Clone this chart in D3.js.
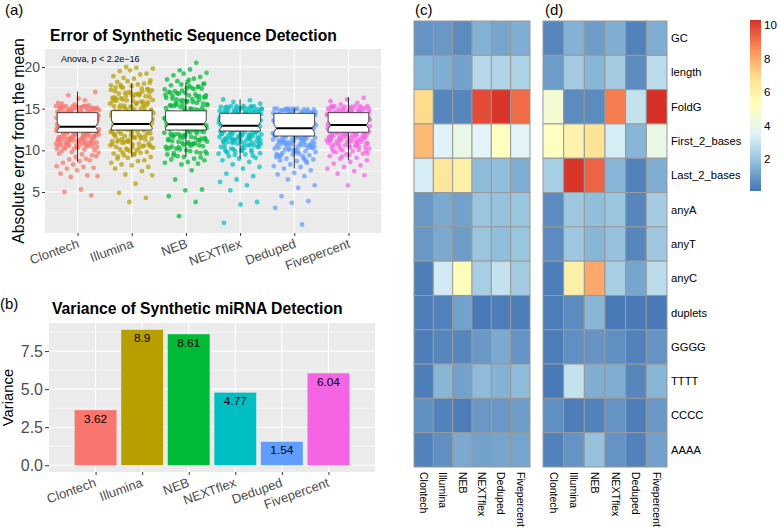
<!DOCTYPE html>
<html>
<head>
<meta charset="utf-8">
<script src="https://cdn.jsdelivr.net/npm/d3@7"></script>
<style>
  body { margin: 0; background: #fff; }
  svg { font-family: "Liberation Sans", Arial, sans-serif; display: block; }
</style>
</head>
<body>
<svg id="fig" width="778" height="531"></svg>
<script>
// ---- data ----
const categories = ["Clontech", "Illumina", "NEB", "NEXTflex", "Deduped", "Fivepercent"];
const hueColors = ["#F8766D", "#B79F00", "#00BA38", "#00BFC4", "#619CFF", "#F564E3"];

// (a) box statistics
const boxLow = [8.64, 9.16, 9.2, 9.04, 7.84, 8.84];
const boxQ1 = [12.17, 12.44, 12.44, 12.32, 11.72, 12.17];
const boxMedian = [12.84, 13.16, 13.14, 12.96, 12.64, 13.04];
const boxQ3 = [14.52, 14.76, 14.74, 14.44, 14.44, 14.52];
const boxHigh = [17.04, 18.1, 18.1, 16.12, 15.04, 16.36];
const notchHalf = [0.45, 0.45, 0.45, 0.45, 0.5, 0.45];
const errorTicks = [5, 10, 15, 20];
const errorMinor = [2.5, 7.5, 12.5, 17.5];

// (a) jittered points, absolute error per sequence (estimated)
const clontechErr = [15.3,15.2,15.3,15.1,15.2,15.0,15.3,14.9,15.1,14.8,15.2,14.7,15.0,14.6,15.3,14.5,14.9,14.4,15.1,14.3,
  14.8,14.2,14.6,14.1,15.0,14.0,14.4,13.9,14.7,13.8,14.2,13.7,14.5,13.6,13.9,13.5,14.3,13.4,13.8,13.3,
  14.1,13.2,13.6,13.1,14.0,13.0,13.4,12.9,13.7,12.8,13.2,12.7,13.5,12.6,12.9,12.5,13.3,12.4,12.7,12.3,
  13.0,12.2,12.5,12.1,12.8,12.0,12.3,11.9,12.6,11.8,12.1,11.7,12.4,11.6,11.9,11.5,12.2,11.4,11.7,11.3,
  12.0,11.2,11.5,11.1,11.8,11.0,11.3,10.9,11.6,10.8,11.1,10.7,11.4,10.6,10.9,10.5,11.2,10.4,10.7,10.3,
  10.9,10.2,10.5,10.1,10.8,10.0,10.3,9.9,10.6,9.8,9.7,9.5,10.2,9.4,9.2,9.6,9.0,8.9,9.3,8.7,
  8.5,8.8,8.3,8.1,8.0,7.8,7.9,7.6,7.2,7.0,6.8,6.9,5.3,5.0,4.6,
  15.5,15.7,16.0,16.6,17.0,16.2,15.6,15.4];
const clontechCore = [15.25,14.85,14.35,13.95,13.45,12.95,12.45,11.95,11.45,10.95,15.15,14.65,14.15,13.65,13.15,12.65,12.15,11.65,11.15,10.65,
  15.05,14.55,14.05,13.55,13.05,12.55,12.05,11.55,11.05,10.55,14.95,14.45,13.85,13.35,12.85,12.35,11.85,11.35,10.85,10.35,
  15.28,14.75,14.25,13.75,13.25,12.75,12.25,11.75,11.25,10.75,14.88,14.38,13.88,13.38,12.88,12.38,11.88,11.38,10.88,10.45,
  15.18,14.68,14.18,13.68,13.18,12.68,12.18,11.68,11.18,10.15];
const illuminaErr = [20.0,19.8,19.9,19.5,19.2,19.6,18.9,19.1,18.7,18.4,18.6,18.2,18.0,18.3,17.8,17.9,17.6,17.3,17.7,17.1,
  17.4,16.9,17.2,16.7,16.8,16.5,17.0,16.3,16.6,16.1,16.4,15.9,16.2,15.8,16.0,15.6,15.7,15.4,15.5,15.2,
  15.3,15.0,15.1,14.8,14.9,14.6,14.7,14.4,14.5,14.2,14.3,14.0,14.1,13.8,13.9,13.6,13.7,13.4,13.5,13.2,
  13.3,13.0,13.1,12.8,12.9,12.6,12.7,12.4,12.5,12.2,12.3,12.0,12.1,11.8,11.9,11.6,11.7,11.4,11.5,11.2,
  11.3,11.0,11.1,10.8,10.9,10.6,10.7,10.4,10.5,10.2,10.3,10.0,10.1,9.8,9.9,9.6,9.7,9.4,9.2,9.5,
  9.0,8.8,9.1,8.5,8.7,8.3,8.0,8.2,7.8,7.5,7.1,7.0,6.0,4.9,4.3,3.8,
  15.9,16.8,17.5,18.1,14.7,13.3,12.6,11.1,10.6,14.2];
const illuminaCore = [17.85,17.35,16.85,16.35,15.85,15.35,14.85,14.35,13.85,13.35,12.85,12.35,11.85,11.35,10.85,10.35,
  17.55,17.05,16.55,16.05,15.55,15.05,14.55,14.05,13.55,13.05,12.55,12.05,11.55,11.05,10.55,10.05,
  17.25,16.75,16.25,15.75,15.25,14.75,14.25,13.75,13.25,12.75,12.25,11.75,11.25,10.75,10.25,9.75,
  16.95,16.45,15.95,15.45,14.95,14.45,13.95,13.45,12.95,12.45,11.95,11.45,10.95,10.45,9.55,9.25,
  15.15,14.65,14.15,13.65,13.15,12.65,12.15,11.65];
const nebErr = [20.5,19.6,19.3,19.7,19.0,18.8,19.2,18.5,18.6,18.3,18.0,18.2,17.8,17.6,17.9,17.3,17.5,17.1,17.4,16.9,
  17.0,16.7,16.8,16.4,16.6,16.2,16.5,16.0,16.3,15.8,16.1,15.6,15.9,15.4,15.7,15.2,15.5,15.0,15.3,14.8,
  15.1,14.6,14.9,14.4,14.7,14.2,14.5,14.0,14.3,13.8,14.1,13.6,13.9,13.4,13.7,13.2,13.5,13.0,13.3,12.8,
  13.1,12.6,12.9,12.4,12.7,12.2,12.5,12.0,12.3,11.8,12.1,11.6,11.9,11.4,11.7,11.2,11.5,11.0,11.3,10.8,
  11.1,10.6,10.9,10.4,10.7,10.2,10.5,10.0,10.3,9.8,10.1,9.6,9.9,9.4,9.7,9.2,9.5,9.0,9.3,8.8,
  8.6,8.9,8.4,8.3,8.5,7.6,6.5,5.3,5.2,4.5,3.8,2.1,
  16.6,17.7,14.4,12.9,11.5,13.4,10.8,15.5];
const nebCore = [17.95,17.45,16.95,16.45,15.95,15.45,14.95,14.45,13.95,13.45,12.95,12.45,11.95,11.45,10.95,10.45,
  17.65,17.15,16.65,16.15,15.65,15.15,14.65,14.15,13.65,13.15,12.65,12.15,11.65,11.15,10.65,10.15,
  17.35,16.85,16.35,15.85,15.35,14.85,14.35,13.85,13.35,12.85,12.35,11.85,11.35,10.85,10.35,9.85,
  18.45,16.55,16.05,15.55,15.05,14.55,14.05,13.55,13.05,12.55,12.05,11.55,11.05,10.55,9.65,9.15,
  14.75,14.25,13.75,13.25,12.75,12.25,11.75,11.25];
const nextflexErr = [16.1,16.0,15.8,15.6,15.3,15.2,15.3,15.1,15.2,15.0,15.3,14.9,15.1,14.8,15.2,14.7,15.0,14.6,14.9,14.5,
  14.8,14.4,14.7,14.3,14.6,14.2,14.5,14.1,14.4,14.0,14.3,13.9,14.2,13.8,14.1,13.7,14.0,13.6,13.9,13.5,
  13.8,13.4,13.7,13.3,13.6,13.2,13.5,13.1,13.4,13.0,13.3,12.9,13.2,12.8,13.1,12.7,13.0,12.6,12.9,12.5,
  12.8,12.4,12.7,12.3,12.6,12.2,12.5,12.1,12.4,12.0,12.3,11.9,12.2,11.8,12.1,11.7,12.0,11.6,11.9,11.5,
  11.8,11.4,11.7,11.3,11.6,11.2,11.5,11.1,11.4,11.0,11.3,10.9,11.2,10.8,11.0,10.6,10.8,10.4,10.6,10.2,
  10.4,10.0,10.1,9.8,9.9,9.6,9.5,9.3,9.1,9.0,8.8,8.6,8.3,8.0,7.8,7.2,6.9,6.5,6.2,5.8,5.2,3.8,3.5,1.3];
const nextflexCore = [15.25,14.85,14.35,13.95,13.45,12.95,12.45,11.95,11.45,10.95,10.45,9.95,
  15.15,14.65,14.15,13.65,13.15,12.65,12.15,11.65,11.15,10.65,10.15,9.65,
  15.05,14.55,14.05,13.55,13.05,12.55,12.05,11.55,11.05,10.55,10.05,9.45,
  14.95,14.45,13.85,13.35,12.85,12.35,11.85,11.35,10.85,10.35,9.85,9.35,
  15.28,14.75,14.25,13.75,13.25,12.75,12.25,11.75,11.25,10.75,10.25,9.75,
  14.88,14.38,13.88,13.38,12.88,12.38,11.88,11.38,10.88];
const dedupedErr = [15.0,15.0,14.9,15.0,14.9,15.0,14.8,14.9,14.7,15.0,14.6,14.8,14.5,14.9,14.4,14.7,14.3,14.6,14.2,14.8,
  14.1,14.5,14.0,14.4,13.9,14.3,13.8,14.2,13.7,14.1,13.6,14.0,13.5,13.9,13.4,13.8,13.3,13.7,13.2,13.6,
  13.1,13.5,13.0,13.4,12.9,13.3,12.8,13.2,12.7,13.1,12.6,13.0,12.5,12.9,12.4,12.8,12.3,12.7,12.2,12.6,
  12.1,12.5,12.0,12.4,11.9,12.3,11.8,12.2,11.7,12.1,11.6,12.0,11.5,11.9,11.4,11.8,11.3,11.7,11.2,11.6,
  11.1,11.5,11.0,11.4,10.9,11.3,10.8,11.2,10.7,11.1,10.6,11.0,10.5,10.9,10.4,10.8,10.3,10.7,10.2,10.6,
  10.1,10.5,10.0,10.3,9.9,10.1,9.8,9.6,9.7,9.4,9.5,9.2,9.3,9.0,8.9,8.7,8.8,8.5,8.3,8.1,8.0,7.8,7.6,7.3,7.1,6.9,
  6.5,5.8,5.5,4.5,3.9,3.7,3.1,1.1];
const dedupedCore = [14.95,14.55,14.05,13.55,13.05,12.55,12.05,11.55,11.05,10.55,10.05,9.55,9.05,
  14.85,14.35,13.85,13.35,12.85,12.35,11.85,11.35,10.85,10.35,9.85,9.35,8.85,
  14.75,14.25,13.75,13.25,12.75,12.25,11.75,11.25,10.75,10.25,9.75,9.25,8.65,
  14.98,14.45,13.95,13.45,12.95,12.45,11.95,11.45,10.95,10.45,9.95,9.45,
  14.65,14.15,13.65,13.15,12.65,12.15,11.65,11.15,10.65,10.15];
const fivepercentErr = [16.3,16.1,15.9,15.7,15.5,15.3,15.2,15.3,15.1,15.2,15.0,15.3,14.9,15.1,14.8,15.2,14.7,15.0,14.6,14.9,
  14.5,14.8,14.4,14.7,14.3,14.6,14.2,14.5,14.1,14.4,14.0,14.3,13.9,14.2,13.8,14.1,13.7,14.0,13.6,13.9,
  13.5,13.8,13.4,13.7,13.3,13.6,13.2,13.5,13.1,13.4,13.0,13.3,12.9,13.2,12.8,13.1,12.7,13.0,12.6,12.9,
  12.5,12.8,12.4,12.7,12.3,12.6,12.2,12.5,12.1,12.4,12.0,12.3,11.9,12.2,11.8,12.1,11.7,12.0,11.6,11.9,
  11.5,11.8,11.4,11.7,11.3,11.6,11.2,11.5,11.1,11.4,11.0,11.3,10.9,11.2,10.8,11.1,10.7,11.0,10.6,10.9,
  10.5,10.8,10.4,10.6,10.2,10.4,10.0,10.2,9.9,9.8,9.6,9.5,9.3,9.1,9.0,8.8,8.6,8.4,8.2,8.0,7.8,7.5,7.2,7.0,5.8];
const fivepercentCore = [15.25,14.85,14.35,13.95,13.45,12.95,12.45,11.95,11.45,10.95,10.45,9.95,9.45,
  15.15,14.65,14.15,13.65,13.15,12.65,12.15,11.65,11.15,10.65,10.15,9.65,
  15.05,14.55,14.05,13.55,13.05,12.55,12.05,11.55,11.05,10.55,10.05,9.25,
  14.95,14.45,13.85,13.35,12.85,12.35,11.85,11.35,10.85,10.35,9.85,
  15.28,14.75,14.25,13.75,13.25,12.75,12.25,11.75,11.25];
const errorPoints = [
  clontechErr.concat(clontechCore),
  illuminaErr.concat(illuminaCore),
  nebErr.concat(nebCore),
  nextflexErr.concat(nextflexCore),
  dedupedErr.concat(dedupedCore),
  fivepercentErr.concat(fivepercentCore)
];

// (b) variance
const varianceValues = [3.62, 8.9, 8.61, 4.77, 1.54, 6.04];
const varianceTicks = [0, 2.5, 5, 7.5];
const varianceMinor = [1.25, 3.75, 6.25, 8.75];

// (c) / (d) heatmaps
const featureRows = ["GC", "length", "FoldG", "First_2_bases", "Last_2_bases", "anyA", "anyT", "anyC",
  "duplets", "GGGG", "TTTT", "CCCC", "AAAA"];
const heatC = [
  [0.8, 0.9, 0.6, 1.5, 1.2, 1.4],
  [1.6, 1.4, 1.1, 2.6, 2.5, 2.4],
  [7.0, 0.5, 0.5, 9.8, 10.2, 9.2],
  [7.7, 3.5, 4.0, 3.6, 5.2, 3.6],
  [3.3, 6.5, 6.0, 1.7, 1.8, 1.4],
  [0.9, 1.3, 1.1, 2.0, 1.9, 2.0],
  [0.9, 1.3, 1.0, 2.0, 1.8, 2.0],
  [0.3, 3.2, 5.3, 2.3, 2.9, 2.2],
  [0.3, 0.4, 1.1, 0.2, 0.3, 0.3],
  [0.3, 0.5, 0.5, 0.9, 1.3, 0.8],
  [0.3, 1.6, 1.1, 1.7, 1.5, 1.7],
  [0.7, 0.4, 0.3, 0.9, 0.9, 1.0],
  [0.4, 0.7, 1.3, 1.1, 1.2, 1.2]
];
const heatD = [
  [0.5, 1.5, 1.0, 1.4, 0.4, 1.4],
  [1.0, 2.2, 1.6, 2.2, 0.6, 2.7],
  [4.6, 0.6, 0.6, 8.9, 2.9, 10.3],
  [5.1, 5.9, 6.7, 3.3, 1.6, 4.0],
  [2.3, 10.2, 9.35, 1.6, 0.4, 1.4],
  [0.6, 2.1, 1.8, 2.0, 0.5, 2.2],
  [0.6, 2.1, 1.6, 1.9, 0.5, 2.1],
  [0.3, 6.0, 8.05, 2.3, 1.2, 2.7],
  [0.3, 0.6, 1.6, 0.2, 0.2, 0.2],
  [0.3, 0.7, 0.8, 0.7, 0.4, 0.8],
  [0.2, 2.9, 1.4, 1.4, 0.5, 1.6],
  [0.7, 0.3, 0.4, 0.8, 0.3, 0.9],
  [0.4, 0.8, 1.9, 0.8, 0.4, 1.1]
];
const heatPalette = ["#4575B4", "#91BFDB", "#E0F3F8", "#FFFFBF", "#FEE090", "#FC8D59", "#D73027"];
const legendTicks = [2, 4, 6, 8, 10];
const heatMin = 0.1, heatMax = 10.3;

// ---- drawing ----
const svg = d3.select("#fig");
const tickGrey = "#4D4D4D";

function styleAxis(g, fontSize) {
  g.select(".domain").remove();
  g.selectAll(".tick line").attr("stroke", "#333333").attr("stroke-width", 1);
  g.selectAll(".tick text").attr("fill", tickGrey).attr("font-size", fontSize)
    .attr("font-family", '"Liberation Sans", Arial, sans-serif');
}

// ===== (a) error boxplot =====
const aBox = { left: 45, right: 381, top: 49, bottom: 233 };
const xA = d3.scalePoint().domain(categories).range([aBox.left, aBox.right]).padding(0.6);
const yA = d3.scaleLinear().domain([0.08, 22.16]).range([aBox.bottom, aBox.top]);
const stepA = xA.step();
const gA = svg.append("g");

gA.append("rect").attr("x", aBox.left).attr("y", aBox.top)
  .attr("width", aBox.right - aBox.left).attr("height", aBox.bottom - aBox.top).attr("fill", "#EBEBEB");
gA.selectAll(".minor").data(errorMinor).join("line")
  .attr("x1", aBox.left).attr("x2", aBox.right)
  .attr("y1", d => yA(d)).attr("y2", d => yA(d))
  .attr("stroke", "#fff").attr("stroke-width", 0.55);
gA.selectAll(".major").data(errorTicks).join("line")
  .attr("x1", aBox.left).attr("x2", aBox.right)
  .attr("y1", d => yA(d)).attr("y2", d => yA(d))
  .attr("stroke", "#fff").attr("stroke-width", 1.1);
gA.selectAll(".vmajor").data(categories).join("line")
  .attr("x1", d => xA(d)).attr("x2", d => xA(d))
  .attr("y1", aBox.top).attr("y2", aBox.bottom)
  .attr("stroke", "#fff").attr("stroke-width", 1.1);

// jittered points (deterministic spread of the jitter)
categories.forEach((cat, ci) => {
  const cx = xA(cat);
  gA.append("g").selectAll("circle").data(errorPoints[ci]).join("circle")
    .attr("cx", (d, i) => cx + (((i * 0.6180339 + ci * 0.37) % 1) * 2 - 1) * 0.4 * stepA)
    .attr("cy", d => yA(d))
    .attr("r", 2.4)
    .attr("fill", hueColors[ci])
    .attr("fill-opacity", 0.72);
});

// notched boxes
const boxW = 0.75 * stepA;
const notchInset = 2.5;
categories.forEach((cat, ci) => {
  const cx = xA(cat);
  const l = cx - boxW / 2, r = cx + boxW / 2;
  const q1 = yA(boxQ1[ci]), q3 = yA(boxQ3[ci]), md = yA(boxMedian[ci]);
  const nu = yA(Math.min(boxMedian[ci] + notchHalf[ci], boxQ3[ci]));
  const nl = yA(Math.max(boxMedian[ci] - notchHalf[ci], boxQ1[ci]));
  gA.append("line").attr("x1", cx).attr("x2", cx)
    .attr("y1", yA(boxHigh[ci])).attr("y2", q3).attr("stroke", "#000").attr("stroke-width", 0.8);
  gA.append("line").attr("x1", cx).attr("x2", cx)
    .attr("y1", q1).attr("y2", yA(boxLow[ci])).attr("stroke", "#000").attr("stroke-width", 0.8);
  const pts = [[l, q3], [l, nu], [l + notchInset, md], [l, nl], [l, q1],
    [r, q1], [r, nl], [r - notchInset, md], [r, nu], [r, q3]];
  gA.append("path").attr("d", d3.line()(pts) + "Z")
    .attr("fill", "#fff").attr("stroke", "#222").attr("stroke-width", 0.8);
  gA.append("line").attr("x1", l + notchInset).attr("x2", r - notchInset)
    .attr("y1", md).attr("y2", md).attr("stroke", "#000").attr("stroke-width", 2);
});

const axALeft = gA.append("g").attr("transform", `translate(${aBox.left},0)`)
  .call(d3.axisLeft(yA).tickValues(errorTicks).tickSize(3).tickPadding(2));
styleAxis(axALeft, 14);
const axABottom = gA.append("g").attr("transform", `translate(0,${aBox.bottom})`)
  .call(d3.axisBottom(xA).tickSize(3));
styleAxis(axABottom, 13);
axABottom.selectAll(".tick text")
  .attr("x", 0).attr("y", 0).attr("dy", 0)
  .attr("text-anchor", "end").attr("transform", "translate(2,14) rotate(-20)");

gA.append("text").attr("x", 61).attr("y", 62).attr("font-size", 9).attr("fill", "#000")
  .text("Anova, p < 2.2e\u221216");
gA.append("text").attr("x", 50).attr("y", 41).attr("font-size", 15.7).attr("font-weight", "bold")
  .text("Error of Synthetic Sequence Detection");
gA.append("text").attr("transform", `translate(24,${(aBox.top + aBox.bottom) / 2}) rotate(-90)`)
  .attr("text-anchor", "middle").attr("font-size", 15.8).text("Absolute error from the mean");
svg.append("text").attr("x", 5).attr("y", 15).attr("font-size", 15).text("(a)");

// ===== (b) variance bars =====
const bBox = { left: 49, right: 375, top: 323, bottom: 472 };
const xB = d3.scaleBand().domain(categories).range([bBox.left, bBox.right])
  .paddingInner(0.1).paddingOuter(0.55);
const yB = d3.scaleLinear().domain([-0.445, 9.345]).range([bBox.bottom, bBox.top]);
const gB = svg.append("g");
gB.append("rect").attr("x", bBox.left).attr("y", bBox.top)
  .attr("width", bBox.right - bBox.left).attr("height", bBox.bottom - bBox.top).attr("fill", "#EBEBEB");
gB.selectAll(".minor").data(varianceMinor).join("line")
  .attr("x1", bBox.left).attr("x2", bBox.right)
  .attr("y1", d => yB(d)).attr("y2", d => yB(d))
  .attr("stroke", "#fff").attr("stroke-width", 0.55);
gB.selectAll(".major").data(varianceTicks).join("line")
  .attr("x1", bBox.left).attr("x2", bBox.right)
  .attr("y1", d => yB(d)).attr("y2", d => yB(d))
  .attr("stroke", "#fff").attr("stroke-width", 1.1);
gB.selectAll(".vmajor").data(categories).join("line")
  .attr("x1", d => xB(d) + xB.bandwidth() / 2).attr("x2", d => xB(d) + xB.bandwidth() / 2)
  .attr("y1", bBox.top).attr("y2", bBox.bottom)
  .attr("stroke", "#fff").attr("stroke-width", 1.1);
gB.selectAll(".bar").data(varianceValues).join("rect")
  .attr("x", (d, i) => xB(categories[i]))
  .attr("width", xB.bandwidth())
  .attr("y", d => yB(d))
  .attr("height", d => yB(0) - yB(d))
  .attr("fill", (d, i) => hueColors[i]);
gB.selectAll(".lbl").data(varianceValues).join("text")
  .attr("x", (d, i) => xB(categories[i]) + xB.bandwidth() / 2)
  .attr("y", d => yB(d) + 12.5)
  .attr("text-anchor", "middle").attr("font-size", 11.8).attr("fill", "#000")
  .text(d => String(d));

const xBcenter = d3.scalePoint().domain(categories)
  .range([xB(categories[0]) + xB.bandwidth() / 2, xB(categories[5]) + xB.bandwidth() / 2]);
const axBLeft = gB.append("g").attr("transform", `translate(${bBox.left},0)`)
  .call(d3.axisLeft(yB).tickValues(varianceTicks).tickFormat(d3.format(".1f")).tickSize(4).tickPadding(2));
styleAxis(axBLeft, 16);
const axBBottom = gB.append("g").attr("transform", `translate(0,${bBox.bottom})`)
  .call(d3.axisBottom(xBcenter).tickSize(3));
styleAxis(axBBottom, 13);
axBBottom.selectAll(".tick text")
  .attr("x", 0).attr("y", 0).attr("dy", 0)
  .attr("text-anchor", "end").attr("transform", "translate(1,14) rotate(-20)");
gB.append("text").attr("x", 52).attr("y", 314).attr("font-size", 15.7).attr("font-weight", "bold")
  .text("Variance of Synthetic miRNA Detection");
gB.append("text").attr("transform", `translate(13,${(bBox.top + bBox.bottom) / 2}) rotate(-90)`)
  .attr("text-anchor", "middle").attr("font-size", 14.8).text("Variance");
svg.append("text").attr("x", 0).attr("y", 309).attr("font-size", 15).text("(b)");

// ===== (c) & (d) heatmaps =====
const heatColor = d3.scaleLinear()
  .domain(d3.range(heatPalette.length).map(i => heatMin + i * (heatMax - heatMin) / (heatPalette.length - 1)))
  .range(heatPalette);
const yH = d3.scaleBand().domain(featureRows).range([21, 467]);

function drawHeat(matrix, x0, x1, tag, tagX, withRowLabels) {
  const xH = d3.scaleBand().domain(categories).range([x0, x1]);
  const g = svg.append("g");
  matrix.forEach((row, ri) => {
    g.append("g").selectAll("rect").data(row).join("rect")
      .attr("x", (d, i) => xH(categories[i]))
      .attr("y", yH(featureRows[ri]))
      .attr("width", xH.bandwidth())
      .attr("height", yH.bandwidth())
      .attr("fill", d => heatColor(d))
      .attr("stroke", "#999999").attr("stroke-width", 1);
  });
  g.selectAll(".collab").data(categories).join("text")
    .attr("transform", d => `translate(${xH(d) + xH.bandwidth() / 2},472) rotate(90)`)
    .attr("dy", "0.35em").attr("font-size", 10.5).attr("fill", "#000")
    .text(d => d);
  if (withRowLabels) {
    g.selectAll(".rowlab").data(featureRows).join("text")
      .attr("x", x1 + 4).attr("y", d => yH(d) + yH.bandwidth() / 2)
      .attr("dy", "0.35em").attr("font-size", 11.2).attr("fill", "#000")
      .text(d => d);
  }
  svg.append("text").attr("x", tagX).attr("y", 14.5).attr("font-size", 15).text(tag);
}
drawHeat(heatC, 414, 530, "(c)", 415, false);
drawHeat(heatD, 543, 667, "(d)", 545, true);

// legend
const yLeg = d3.scaleLinear().domain([heatMin, heatMax]).range([191, 20]);
const grad = svg.append("defs").append("linearGradient").attr("id", "legGrad")
  .attr("x1", 0).attr("y1", 1).attr("x2", 0).attr("y2", 0);
heatPalette.forEach((c, i) => {
  grad.append("stop").attr("offset", i / (heatPalette.length - 1)).attr("stop-color", c);
});
svg.append("rect").attr("x", 750).attr("y", 20).attr("width", 11).attr("height", 171)
  .attr("fill", "url(#legGrad)");
svg.append("g").selectAll("text").data(legendTicks).join("text")
  .attr("x", 764).attr("y", d => yLeg(d)).attr("dy", "0.35em")
  .attr("font-size", 11.5).attr("fill", "#000")
  .text(d => d);
</script>
</body>
</html>
